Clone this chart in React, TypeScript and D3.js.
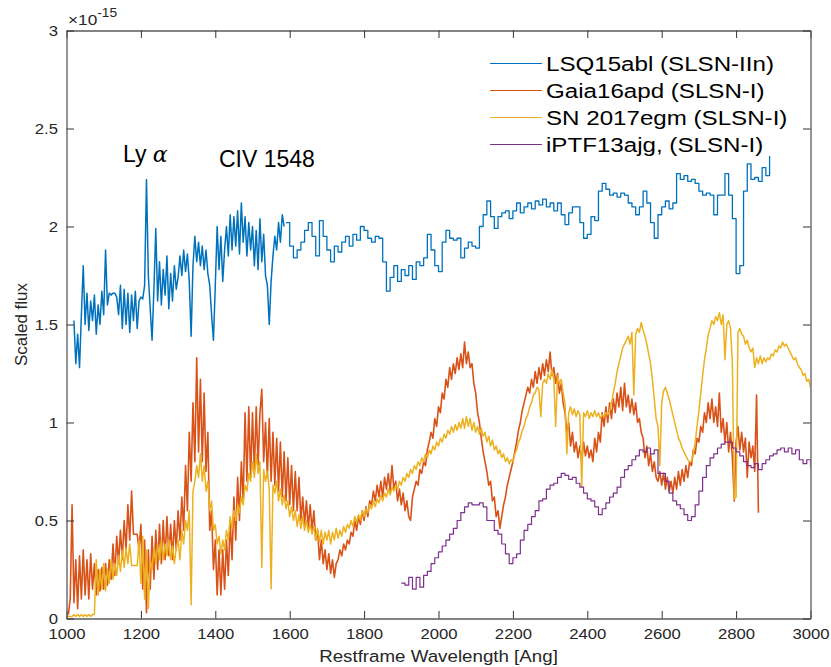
import * as d3 from "d3";
import { useEffect, useRef } from "react";

const width = 831;
const height = 667;

// flux in units of 1e-15, sampled on regular wavelength grids (Ang)
const lsqNoisyStart = 1020;
const lsqNoisyStep = 5;
const lsqNoisyFlux = [
    1.52, 1.30, 1.45, 1.28, 1.55, 1.80, 1.50, 1.66, 1.47, 1.62,
    1.52, 1.65, 1.45, 1.60, 1.50, 1.67, 1.55, 1.88, 1.60, 1.66,
    1.65, 1.66, 1.66, 1.64, 1.55, 1.70, 1.48, 1.68, 1.50, 1.66,
    1.46, 1.65, 1.52, 1.67, 1.48, 1.62, 1.64, 1.63, 1.70, 2.24,
    1.75, 1.58, 1.42, 1.68, 1.99, 1.62, 1.82, 1.60, 1.78, 1.65,
    1.85, 1.58, 1.76, 1.62, 1.80, 1.68, 1.74, 1.85, 1.75, 1.88,
    1.77, 1.86, 1.72, 1.44, 1.80, 1.95, 1.82, 1.92, 1.80, 1.90,
    1.78, 1.88, 1.76, 1.70, 1.55, 1.42, 1.70, 2.00, 1.78, 1.95,
    1.72, 1.88, 2.00, 1.85, 2.06, 1.88, 2.05, 1.90, 2.08, 1.86,
    2.12, 1.92, 2.05, 1.85, 2.02, 1.88, 2.00, 1.80, 1.98, 1.78,
    2.04, 1.82, 1.96, 1.75, 1.70, 1.50, 1.72, 1.85, 1.95, 1.88,
    2.02, 1.92, 2.06, 2.00,
];

const lsqBinnedStart = 1590;
const lsqBinnedStep = 10;
const lsqBinnedFlux = [
    2.02, 1.90, 1.84, 1.88, 1.92, 1.98, 2.02, 1.95, 1.85, 2.03,
    1.95, 1.88, 1.82, 1.90, 1.87, 1.92, 1.95, 1.90, 1.96, 1.93,
    2.00, 1.98, 1.94, 1.92, 1.95, 1.94, 1.82, 1.67, 1.74, 1.80,
    1.72, 1.78, 1.75, 1.80, 1.73, 1.82, 1.80, 1.84, 1.96, 1.88,
    1.80, 1.77, 1.92, 1.98, 1.94, 1.93, 1.94, 1.84, 1.89, 1.92,
    1.90, 1.89, 2.00, 2.06, 2.13, 2.05, 1.99, 2.05, 2.07, 2.08,
    2.04, 2.08, 2.12, 2.07, 2.10, 2.12, 2.09, 2.13, 2.11, 2.14,
    2.10, 2.12, 2.08, 2.12, 2.06, 2.01, 2.07, 2.10, 2.10, 2.02,
    1.94, 1.96, 2.05, 2.03, 2.18, 2.22, 2.19, 2.16, 2.17, 2.15,
    2.17, 2.16, 2.12, 2.10, 2.06, 2.10, 2.18, 2.12, 2.02, 1.94,
    2.06, 2.10, 2.13, 2.09, 2.12, 2.27, 2.24, 2.26, 2.23, 2.24,
    2.22, 2.18, 2.16, 2.17, 2.16, 2.06, 2.16, 2.16, 2.27, 2.16,
    2.04, 1.76, 1.80, 2.18, 2.32, 2.24, 2.25, 2.23, 2.30, 2.26,
    2.36,
];

const gaiaStart = 1005;
const gaiaStep = 5;
const gaiaFlux = [
    0.02, 0.10, 0.58, 0.08, 0.30, 0.05, 0.32, 0.10, 0.35, 0.12,
    0.30, 0.10, 0.33, 0.15, 0.28, 0.12, 0.25, 0.14, 0.26, 0.15,
    0.28, 0.17, 0.30, 0.20, 0.38, 0.22, 0.42, 0.28, 0.45, 0.30,
    0.50, 0.35, 0.58, 0.40, 0.65, 0.43, 0.43, 0.43, 0.35, 0.48,
    0.15, 0.40, 0.03, 0.35, 0.15, 0.42, 0.20, 0.45, 0.25, 0.48,
    0.28, 0.50, 0.30, 0.52, 0.32, 0.48, 0.30, 0.50, 0.35, 0.55,
    0.40, 0.62, 0.45, 0.78, 0.55, 0.95, 0.70, 1.10, 0.80, 1.33,
    0.85, 1.22, 0.80, 1.15, 0.75, 0.95, 0.45, 0.55, 0.25, 0.40,
    0.12, 0.35, 0.12, 0.35, 0.15, 0.40, 0.22, 0.50, 0.30, 0.62,
    0.40, 0.72, 0.50, 0.80, 0.60, 1.05, 0.70, 1.08, 0.72, 1.05,
    0.75, 1.08, 0.78, 1.05, 1.17, 0.80, 1.00, 0.72, 1.02, 0.70,
    0.95, 0.68, 0.92, 0.65, 0.90, 0.62, 0.85, 0.60, 0.82, 0.58,
    0.78, 0.55, 0.75, 0.55, 0.72, 0.50, 0.62, 0.48, 0.60, 0.46,
    0.58, 0.45, 0.55, 0.40, 0.45, 0.30, 0.40, 0.28, 0.35, 0.25,
    0.33, 0.23, 0.30, 0.21, 0.28, 0.30, 0.35, 0.32, 0.38, 0.35,
    0.40, 0.38, 0.44, 0.42, 0.50, 0.45, 0.52, 0.48, 0.55, 0.50,
    0.57, 0.52, 0.60, 0.58, 0.65, 0.60, 0.68, 0.62, 0.70, 0.62,
    0.72, 0.66, 0.74, 0.65, 0.78, 0.66, 0.70, 0.60, 0.66, 0.58,
    0.64, 0.55, 0.60, 0.52, 0.50, 0.62, 0.66, 0.70, 0.68, 0.76,
    0.74, 0.80, 0.78, 0.86, 0.90, 0.95, 0.92, 1.02, 0.98, 1.08,
    1.05, 1.15, 1.12, 1.22, 1.18, 1.28, 1.22, 1.30, 1.25, 1.33,
    1.27, 1.35, 1.28, 1.41, 1.30, 1.36, 1.28, 1.30, 1.20, 1.15,
    1.05, 1.00, 0.92, 0.85, 0.80, 0.75, 0.68, 0.70, 0.60, 0.62,
    0.52, 0.55, 0.46, 0.52, 0.58, 0.62, 0.68, 0.72, 0.76, 0.80,
    0.85, 0.90, 0.96, 1.00, 1.06, 1.10, 1.14, 1.18, 1.15, 1.22,
    1.18, 1.26, 1.20, 1.28, 1.22, 1.30, 1.24, 1.32, 1.26, 1.36,
    1.24, 1.28, 1.20, 1.25, 1.15, 1.20, 1.10, 1.05, 0.95, 1.00,
    0.88, 0.95, 0.85, 0.90, 0.82, 0.88, 0.80, 0.90, 0.83, 0.88,
    0.82, 0.86, 0.80, 0.92, 0.85, 0.95, 0.90, 1.05, 0.98, 1.08,
    1.00, 1.10, 1.02, 1.12, 1.05, 1.15, 1.08, 1.18, 1.06, 1.20,
    1.08, 1.14, 1.05, 1.12, 1.04, 1.10, 1.00, 1.02, 0.95, 0.92,
    0.82, 0.88, 0.78, 0.84, 0.75, 0.80, 0.72, 0.70, 0.75, 0.68,
    0.74, 0.66, 0.72, 0.65, 0.70, 0.64, 0.72, 0.66, 0.75, 0.68,
    0.76, 0.70, 0.78, 0.72, 0.80, 0.78, 0.86, 0.84, 0.92, 0.90,
    0.98, 0.95, 1.05, 1.00, 1.10, 1.02, 1.12, 1.00, 1.08, 0.98,
    1.15, 0.95, 1.02, 0.90, 1.00, 0.85, 0.95, 0.82, 0.60, 0.90,
    0.98, 0.86, 0.95, 0.85, 0.92, 0.72, 0.90, 0.82, 0.88, 0.75,
    1.14, 0.54,
];

const egmStart = 1000;
const egmStep = 5;
const egmFlux = [
    0.01, 0.01, 0.01, 0.01, 0.02, 0.01, 0.02, 0.01, 0.02, 0.01,
    0.02, 0.01, 0.02, 0.01, 0.02, 0.02, 0.30, 0.12, 0.25, 0.15,
    0.28, 0.14, 0.25, 0.18, 0.30, 0.20, 0.28, 0.22, 0.32, 0.24,
    0.35, 0.26, 0.36, 0.28, 0.38, 0.27, 0.27, 0.27, 0.27, 0.40,
    0.18, 0.42, 0.10, 0.35, 0.05, 0.30, 0.25, 0.36, 0.28, 0.38,
    0.30, 0.40, 0.30, 0.38, 0.32, 0.40, 0.30, 0.37, 0.28, 0.36,
    0.40, 0.30, 0.45, 0.38, 0.50, 0.45, 0.55, 0.07, 0.65, 0.70,
    0.78, 0.72, 0.84, 0.70, 0.78, 0.65, 0.70, 0.55, 0.60, 0.45,
    0.48, 0.38, 0.42, 0.33, 0.40, 0.35, 0.45, 0.40, 0.52, 0.46,
    0.55, 0.50, 0.58, 0.54, 0.62, 0.58, 0.68, 0.65, 0.74, 0.70,
    0.80, 0.72, 0.84, 0.74, 0.80, 0.26, 0.76, 0.70, 0.75, 0.66,
    0.15, 0.68, 0.64, 0.70, 0.60, 0.66, 0.58, 0.63, 0.56, 0.60,
    0.52, 0.57, 0.50, 0.55, 0.47, 0.53, 0.46, 0.52, 0.45, 0.50,
    0.44, 0.48, 0.43, 0.47, 0.40, 0.46, 0.39, 0.45, 0.38, 0.44,
    0.40, 0.45, 0.38, 0.44, 0.40, 0.46, 0.41, 0.45, 0.42, 0.47,
    0.44, 0.48, 0.46, 0.50, 0.47, 0.52, 0.49, 0.53, 0.50, 0.55,
    0.52, 0.56, 0.54, 0.58, 0.56, 0.60, 0.57, 0.61, 0.59, 0.63,
    0.60, 0.64, 0.62, 0.66, 0.63, 0.67, 0.65, 0.68, 0.66, 0.70,
    0.68, 0.72, 0.70, 0.74, 0.72, 0.76, 0.74, 0.78, 0.76, 0.80,
    0.78, 0.82, 0.80, 0.84, 0.82, 0.86, 0.84, 0.88, 0.86, 0.90,
    0.88, 0.92, 0.90, 0.94, 0.92, 0.96, 0.94, 0.98, 0.95, 0.99,
    0.96, 1.00, 0.97, 1.02, 0.97, 1.03, 0.98, 1.02, 0.96, 1.00,
    0.95, 0.98, 0.94, 0.97, 0.93, 0.95, 0.90, 0.93, 0.88, 0.91,
    0.86, 0.88, 0.84, 0.86, 0.82, 0.84, 0.80, 0.82, 0.79, 0.81,
    0.80, 0.84, 0.86, 0.90, 0.92, 0.96, 0.98, 1.02, 1.04, 1.08,
    1.10, 1.14, 1.15, 1.18, 1.17, 1.03, 1.20, 1.22, 1.20, 1.25,
    1.22, 1.27, 1.22, 0.98, 1.24, 1.20, 1.22, 1.15, 1.10, 0.84,
    1.05, 1.08, 1.04, 1.07, 1.03, 1.06, 1.04, 0.67, 1.05, 1.03,
    1.06, 1.02, 1.05, 1.03, 1.06, 1.03, 1.05, 1.02, 1.04, 1.03,
    1.05, 1.04, 1.06, 1.10, 1.15, 1.20, 1.26, 1.30, 1.34, 1.38,
    1.40, 1.42, 1.44, 1.40, 1.46, 1.14, 1.45, 1.48, 1.46, 1.51,
    1.47, 1.44, 1.40, 1.35, 1.30, 1.22, 1.12, 1.02, 0.98, 0.78,
    1.10, 1.16, 1.18, 1.15, 1.12, 1.08, 1.04, 1.00, 0.96, 0.92,
    0.90, 0.87, 0.85, 0.83, 0.81, 0.80, 0.80, 0.84, 0.90, 0.98,
    1.06, 1.15, 1.24, 1.32, 1.38, 1.45, 1.48, 1.52, 1.50, 1.54,
    1.52, 1.56, 1.50, 1.55, 1.32, 1.50, 1.52, 1.48, 1.30, 0.61,
    0.62, 1.46, 1.48, 1.45, 1.44, 1.40, 1.42, 1.38, 1.36, 1.38,
    1.28, 1.33, 1.30, 1.34, 1.30, 1.33, 1.31, 1.33, 1.32, 1.35,
    1.34, 1.37, 1.36, 1.39, 1.38, 1.41, 1.39, 1.40, 1.38, 1.36,
    1.34, 1.32, 1.33, 1.30, 1.28, 1.27, 1.24, 1.25, 1.21, 1.22,
    1.18,
];

const ptfStart = 1900;
const ptfStep = 10;
const ptfFlux = [
    0.18, 0.17, 0.21, 0.15, 0.21, 0.16, 0.22, 0.24, 0.28, 0.31,
    0.34, 0.37, 0.40, 0.43, 0.46, 0.50, 0.54, 0.57, 0.59, 0.58,
    0.58, 0.59, 0.57, 0.50, 0.50, 0.45, 0.43, 0.38, 0.33, 0.28,
    0.31, 0.33, 0.40, 0.45, 0.48, 0.52, 0.55, 0.60, 0.61, 0.66,
    0.68, 0.69, 0.72, 0.74, 0.73, 0.71, 0.72, 0.69, 0.67, 0.64,
    0.61, 0.60, 0.57, 0.53, 0.56, 0.59, 0.62, 0.64, 0.67, 0.72,
    0.76, 0.78, 0.81, 0.83, 0.86, 0.85, 0.87, 0.84, 0.86, 0.74,
    0.74, 0.70, 0.64, 0.60, 0.58, 0.56, 0.53, 0.50, 0.52, 0.58,
    0.65, 0.72, 0.78, 0.82, 0.84, 0.87, 0.89, 0.90, 0.90, 0.87,
    0.85, 0.83, 0.80, 0.78, 0.77, 0.79, 0.76, 0.79, 0.81, 0.83,
    0.84, 0.86, 0.87, 0.85, 0.87, 0.84, 0.86, 0.81, 0.79, 0.81,
    0.77,
];

const seriesNames = ["LSQ15abl (SLSN-IIn)", "Gaia16apd (SLSN-I)", "SN 2017egm (SLSN-I)", "iPTF13ajg, (SLSN-I)"];
const seriesColors = ["#0072BD", "#D95319", "#EDB120", "#7E2F8E"];

const xTicks = [1000, 1200, 1400, 1600, 1800, 2000, 2200, 2400, 2600, 2800, 3000];
const yTicks = [0, 0.5, 1, 1.5, 2, 2.5, 3];

const toPoints = (start: number, step: number, flux: number[]) =>
    flux.map((f, i) => [start + i * step, f] as [number, number]);

export default function App() {
    const ref = useRef<SVGSVGElement | null>(null);

    useEffect(() => {
        if (!ref.current) return;
        const svg = d3.select(ref.current);
        svg.selectAll("*").remove();

        const left = 66.5, right = 810.5, top = 30.5, bottom = 618.5;
        const sx = 1.15; // the original text is a little wide

        const x = d3.scaleLinear().domain([1000, 3000]).range([left, right]);
        const y = d3.scaleLinear().domain([0, 3]).range([bottom, top]);

        svg.append("rect").attr("width", width).attr("height", height).attr("fill", "#fff");

        svg.append("defs").append("clipPath").attr("id", "plot-clip")
            .append("rect")
            .attr("x", left).attr("y", top)
            .attr("width", right - left).attr("height", bottom - top);

        const lineLinear = d3.line<[number, number]>().x(d => x(d[0])).y(d => y(d[1]));
        const lineStep = d3.line<[number, number]>().x(d => x(d[0])).y(d => y(d[1])).curve(d3.curveStepAfter);

        const traces = [
            { pts: toPoints(lsqNoisyStart, lsqNoisyStep, lsqNoisyFlux), gen: lineLinear, color: seriesColors[0], w: 1.5 },
            { pts: toPoints(lsqBinnedStart, lsqBinnedStep, lsqBinnedFlux), gen: lineStep, color: seriesColors[0], w: 1.3 },
            { pts: toPoints(gaiaStart, gaiaStep, gaiaFlux), gen: lineLinear, color: seriesColors[1], w: 1.6 },
            { pts: toPoints(egmStart, egmStep, egmFlux), gen: lineLinear, color: seriesColors[2], w: 1.5 },
            { pts: toPoints(ptfStart, ptfStep, ptfFlux), gen: lineStep, color: seriesColors[3], w: 1.2 },
        ];

        const plot = svg.append("g").attr("clip-path", "url(#plot-clip)");
        traces.forEach(t => {
            plot.append("path")
                .attr("d", t.gen(t.pts) ?? "")
                .attr("fill", "none")
                .attr("stroke", t.color)
                .attr("stroke-width", t.w)
                .attr("stroke-linejoin", "round");
        });

        // axes, MATLAB style box with inward ticks
        const tick = 7.5;
        const axisColor = "#5a5a5a";
        const font = "'Liberation Sans', Arial, Helvetica, sans-serif";

        const styleAxis = (g: d3.Selection<SVGGElement, unknown, null, undefined>) => {
            g.select(".domain").attr("stroke", axisColor).attr("stroke-width", 1.3);
            g.selectAll(".tick line").attr("stroke", "#333").attr("stroke-width", 1);
        };

        svg.append("g")
            .attr("transform", `translate(0,${bottom})`)
            .call(d3.axisBottom(x).tickValues(xTicks).tickSize(-tick).tickSizeOuter(0).tickPadding(10).tickFormat(d3.format("d")))
            .call(styleAxis)
            .call(g => g.selectAll(".tick text")
                .attr("font-family", font).attr("font-size", 14.5).attr("fill", "#262626")
                .attr("transform", `scale(${sx},1)`));

        svg.append("g")
            .attr("transform", `translate(0,${top})`)
            .call(d3.axisTop(x).tickValues(xTicks).tickSize(-tick).tickSizeOuter(0).tickFormat(() => ""))
            .call(styleAxis);

        svg.append("g")
            .attr("transform", `translate(${left},0)`)
            .call(d3.axisLeft(y).tickValues(yTicks).tickSize(-tick).tickSizeOuter(0).tickPadding(7.4).tickFormat(d => String(d)))
            .call(styleAxis)
            .call(g => g.selectAll(".tick text")
                .attr("font-family", font).attr("font-size", 14.5).attr("fill", "#262626")
                .attr("transform", `scale(${sx},1)`));

        svg.append("g")
            .attr("transform", `translate(${right},0)`)
            .call(d3.axisRight(y).tickValues(yTicks).tickSize(-tick).tickSizeOuter(0).tickFormat(() => ""))
            .call(styleAxis);

        // exponent label
        const expo = svg.append("text")
            .attr("transform", `translate(68,25) scale(${sx},1)`)
            .attr("font-family", font).attr("font-size", 15).attr("fill", "#262626");
        expo.append("tspan").text("×10");
        expo.append("tspan").attr("font-size", 12).attr("dy", -8).text("-15");

        // axis titles
        svg.append("text")
            .attr("transform", `translate(${(left + right) / 2},662) scale(${sx},1)`)
            .attr("text-anchor", "middle")
            .attr("font-family", font).attr("font-size", 16.3).attr("fill", "#262626")
            .text("Restframe Wavelength [Ang]");

        svg.append("text")
            .attr("transform", `translate(27,${(top + bottom) / 2}) rotate(-90)`)
            .attr("text-anchor", "middle")
            .attr("font-family", font).attr("font-size", 17).attr("fill", "#262626")
            .text("Scaled flux");

        // line annotations
        const ly = svg.append("text")
            .attr("x", 123).attr("y", 162)
            .attr("font-family", font).attr("font-size", 23).attr("fill", "#000");
        ly.append("tspan").text("Ly ");
        ly.append("tspan").attr("font-family", "'DejaVu Serif', 'Liberation Serif', serif")
            .attr("font-style", "italic").attr("font-size", 22).text("α");

        svg.append("text")
            .attr("x", 219).attr("y", 167)
            .attr("font-family", font).attr("font-size", 23).attr("fill", "#000")
            .text("CIV 1548");

        // legend
        const legend = svg.append("g");
        seriesNames.forEach((name, i) => {
            const ly0 = 63.5 + i * 27;
            legend.append("line")
                .attr("x1", 490).attr("x2", 542)
                .attr("y1", ly0).attr("y2", ly0)
                .attr("stroke", seriesColors[i]).attr("stroke-width", 1.2);
            legend.append("text")
                .attr("transform", `translate(546,${ly0 + 7.5}) scale(${sx},1)`)
                .attr("font-family", font).attr("font-size", 21).attr("fill", "#000")
                .text(name);
        });
    }, []);

    return (
        <svg
            ref={ref}
            width={width}
            height={height}
            style={{ position: "absolute", left: 0, top: 0, display: "block" }}
        />
    );
}
